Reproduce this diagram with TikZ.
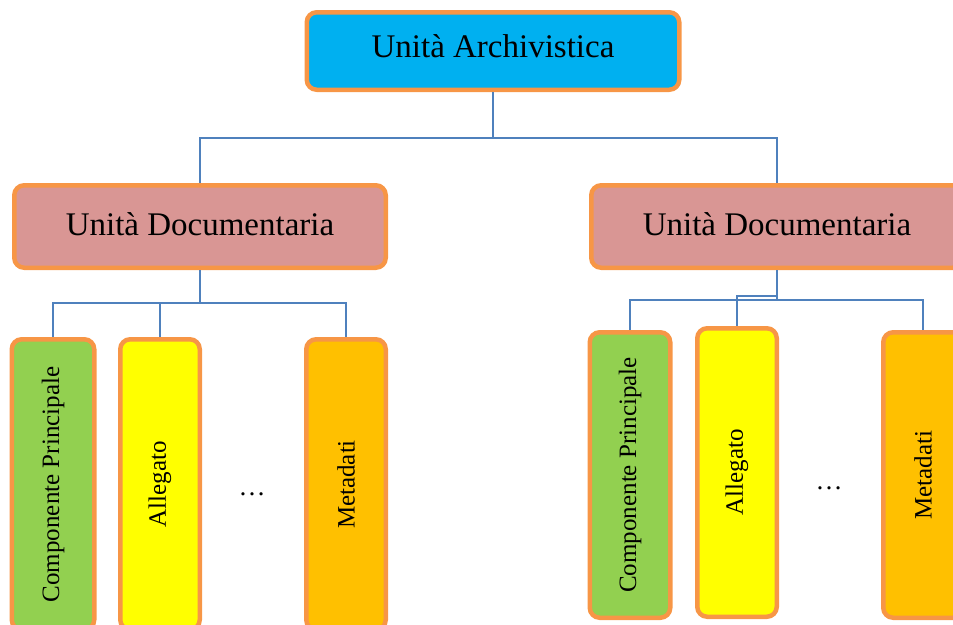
\documentclass[tikz,border=0pt]{standalone}
\usepackage{fontspec}
\setmainfont{Liberation Serif}
\usepackage{tikz}
\usepackage{xcolor}
\definecolor{bordo}{HTML}{F79646}
\definecolor{ciano}{HTML}{00B0F0}
\definecolor{rosa}{HTML}{D99694}
\definecolor{verde}{HTML}{92D050}
\definecolor{giallo}{HTML}{FFFF00}
\definecolor{ambra}{HTML}{FFC000}
\definecolor{linea}{HTML}{4F81BD}

\begin{document}
\begin{tikzpicture}[x=1pt,y=1pt,
                    box/.style={draw=bordo, line width=4.5pt, rounded corners=10pt,
                                inner sep=0pt, font=\fontsize{33}{38}\selectfont},
                    foglia/.style={box, rotate=90, font=\fontsize{25}{30}\selectfont},
                    conn/.style={draw=linea, line width=1.3pt}]
                    \useasboundingbox (0,0) rectangle (953,-624);
                    \clip (0,0) rectangle (953,-624);
                    \node[box, fill=ciano, minimum width=372.5pt, minimum height=77.5pt, text depth=10pt] (ua) at (493,-51) {Unità Archivistica};
                    \node[box, fill=rosa, minimum width=371.5pt, minimum height=82.5pt, text depth=4pt] (ud1) at (200,-226.5) {Unità Documentaria};
                    \node[box, fill=rosa, minimum width=371.5pt, minimum height=82.5pt, text depth=4pt] (ud2) at (777,-226.5) {Unità Documentaria};
                    \node[foglia, fill=verde, minimum width=290.5pt, minimum height=82.5pt] (cp1) at (53,-484.5) {Componente Principale};
                    \node[foglia, fill=giallo, minimum width=290.5pt, minimum height=79.5pt] (al1) at (160,-484.5) {Allegato};
                    \node[foglia, fill=ambra, minimum width=290.5pt, minimum height=79.5pt] (md1) at (346,-484.5) {Metadati};
                    \node[anchor=base, font=\fontsize{27}{30}\selectfont] (pt1) at (252,-495) {\dots};
                    \node[foglia, fill=verde, minimum width=285.5pt, minimum height=80.5pt] (cp2) at (630,-475) {Componente Principale};
                    \node[foglia, fill=giallo, minimum width=288.5pt, minimum height=79.5pt] (al2) at (737,-472.5) {Allegato};
                    \node[foglia, fill=ambra, minimum width=285.5pt, minimum height=79.5pt] (md2) at (923,-475) {Metadati};
                    \node[anchor=base, font=\fontsize{27}{30}\selectfont] (pt2) at (829,-489) {\dots};
                    \draw[conn] (ua.south) -- ++(0,-46) -| (ud1.north);
                    \draw[conn] (ua.south) -- ++(0,-46) -| (ud2.north);
                    \draw[conn] (ud1.south) -- ++(0,-33) -| (cp1.east);
                    \draw[conn] (ud1.south) -- ++(0,-33) -| (al1.east);
                    \draw[conn] (ud1.south) -- ++(0,-33) -| (md1.east);
                    \draw[conn] (ud2.south) -- ++(0,-30) -| (cp2.east);
                    \draw[conn] (ud2.south) -- ++(0,-30) -| (md2.east);
                    \draw[conn] (ud2.south) -- ++(0,-26) -| (al2.east);
                \end{tikzpicture}
\end{document}
